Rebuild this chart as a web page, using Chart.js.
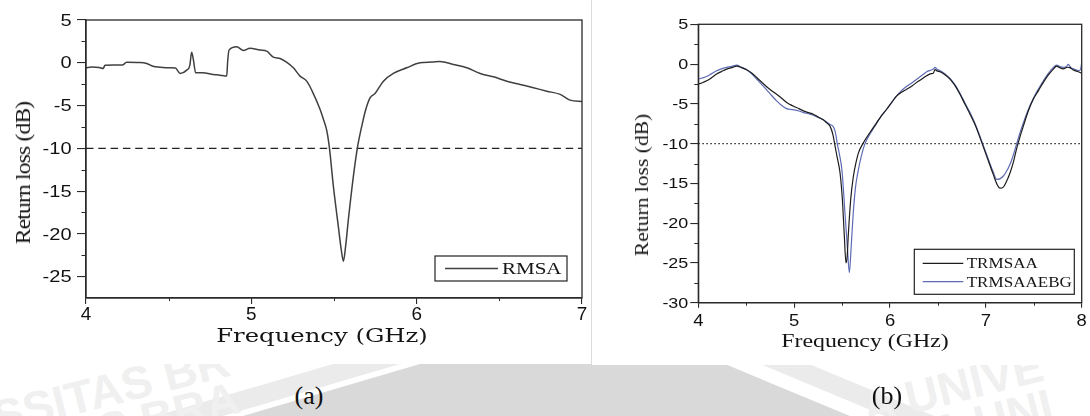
<!DOCTYPE html>
<html>
<head>
<meta charset="utf-8">
<script src="https://cdn.jsdelivr.net/npm/chart.js@4.4.1/dist/chart.umd.min.js"></script>
<style>
  html, body { margin: 0; padding: 0; background: #fff; }
  #page { position: relative; width: 1090px; height: 416px; overflow: hidden; background: #fff; }
  .panel { position: absolute; background: #fff; }
  canvas { position: absolute; }
  .txt { position: absolute; white-space: nowrap; line-height: 1; color: #151515; }
  #wm { position: absolute; left: 0; top: 364px; width: 1090px; height: 52px; overflow: hidden; }
  #wm span { position: absolute; font: bold 46px "Liberation Sans", Arial, sans-serif; color: #f0f0f0; white-space: nowrap; }
</style>
</head>
<body>
<div id="page">
  <svg width="1090" height="416" style="position:absolute;left:0;top:0">
    <polygon points="333,364 400,364 223,416 156,416" fill="#ebebeb"/>
    <polygon points="760,364 809,364 934,416 885,416" fill="#ebebeb"/>
    <polygon points="420,364 725,364 850,416 243,416" fill="#d9d9d9"/>
  </svg>
  <div id="wm">
    <span style="left:-10px;top:-2px;transform:rotate(-14deg)">SSITAS BR</span>
    <span style="left:40px;top:30px;transform:rotate(-14deg)">TAS BRA</span>
    <span style="left:860px;top:-4px;transform:rotate(-14deg)">A UNIVE</span>
    <span style="left:930px;top:28px;transform:rotate(-14deg)">A UNI</span>
  </div>
  <div class="panel" style="left:0;top:0;width:591px;height:364px"></div>
  <div class="panel" style="left:592px;top:0;width:498px;height:365px"></div>
  <div style="position:absolute;left:591px;top:0;width:1px;height:365px;background:#dcdcdc"></div>

  <canvas id="chartA" width="591" height="364" style="left:0;top:0"></canvas>
  <canvas id="chartB" width="498" height="365" style="left:592px;top:0"></canvas>

  <div class="txt" id="yTitleA" style="font:22px 'Liberation Serif','Times New Roman',serif;letter-spacing:-0.8px">Return loss (dB)</div>
  <div class="txt" id="xTitleA" style="font:18px 'DejaVu Serif',serif">Frequency (GHz)</div>
  <div class="txt" id="yTitleB" style="font:19px 'Liberation Serif','Times New Roman',serif">Return loss (dB)</div>
  <div class="txt" id="xTitleB" style="font:19px 'Liberation Serif','Times New Roman',serif">Frequency (GHz)</div>
  <div class="txt" id="capA" style="font:26px 'Liberation Serif','Times New Roman',serif;color:#111">(a)</div>
  <div class="txt" id="capB" style="font:26px 'Liberation Serif','Times New Roman',serif;color:#111">(b)</div>
</div>

<script>
// ---- (a) single antenna: frequency (GHz) and return loss (dB)
const FREQ_A = [4.000, 4.035, 4.080, 4.104, 4.115, 4.170, 4.220, 4.246, 4.310, 4.367, 4.405, 4.448, 4.508, 4.540,
  4.569, 4.609, 4.628, 4.639, 4.650, 4.663, 4.706, 4.770, 4.810, 4.851, 4.857, 4.865, 4.912, 4.952, 4.992, 5.053,
  5.093, 5.133, 5.174, 5.215, 5.254, 5.295, 5.335, 5.375, 5.416, 5.436, 5.456, 5.472, 5.496, 5.526, 5.545, 5.557,
  5.570, 5.587, 5.617, 5.641, 5.668, 5.690, 5.718, 5.748, 5.799, 5.859, 5.940, 6.020, 6.093, 6.140, 6.222, 6.303,
  6.384, 6.464, 6.545, 6.626, 6.706, 6.787, 6.868, 6.928, 7.000];
const RL_A = [-0.59, -0.50, -0.55, -0.66, -0.30, -0.27, -0.27, 0.07, 0.04, -0.08, -0.40, -0.51, -0.59, -0.60,
  -1.25, -0.86, -0.30, 1.22, 0.30, -1.17, -1.17, -1.37, -1.45, -1.56, 0.20, 1.48, 1.87, 1.44, 1.71, 1.48,
  1.36, 0.66, 0.50, 0.05, -0.59, -1.56, -2.15, -3.60, -5.46, -6.60, -7.90, -9.90, -14.4, -19.1, -22.0, -23.19,
  -21.5, -18.3, -13.3, -10.0, -7.40, -5.60, -4.10, -3.60, -2.15, -1.25, -0.59, 0.00, 0.08, 0.15, -0.20, -0.59,
  -1.25, -1.64, -2.15, -2.54, -2.92, -3.32, -3.70, -4.37, -4.52];

// ---- (b) array antenna without / with EBG
const FREQ_TRMSAA = [4.000, 4.040, 4.087, 4.140, 4.191, 4.240, 4.296, 4.350, 4.400, 4.450, 4.504, 4.560, 4.609,
  4.660, 4.713, 4.765, 4.817, 4.870, 4.922, 4.960, 5.000, 5.050, 5.096, 5.150, 5.200, 5.250, 5.304, 5.340, 5.374,
  5.405, 5.425, 5.450, 5.478, 5.503, 5.523, 5.541, 5.553, 5.565, 5.590, 5.617, 5.645, 5.670, 5.722, 5.791, 5.861,
  5.910, 5.965, 6.020, 6.070, 6.120, 6.174, 6.230, 6.278, 6.330, 6.383, 6.430, 6.452, 6.470, 6.490, 6.522, 6.570,
  6.626, 6.680, 6.730, 6.780, 6.835, 6.890, 6.939, 7.009, 7.078, 7.120, 7.148, 7.180, 7.210, 7.252, 7.290, 7.322,
  7.360, 7.391, 7.440, 7.496, 7.550, 7.600, 7.650, 7.704, 7.739, 7.770, 7.809, 7.850, 7.878, 7.913, 7.950, 8.000];
const RL_TRMSAA = [-2.52, -2.35, -2.10, -1.70, -1.26, -0.95, -0.63, -0.45, -0.25, -0.45, -0.72, -1.15, -1.68,
  -2.25, -2.85, -3.35, -3.80, -4.30, -4.84, -5.10, -5.34, -5.60, -5.89, -6.10, -6.30, -6.65, -7.00, -7.40, -7.80,
  -8.90, -10.2, -11.8, -13.6, -17.0, -21.5, -25.0, -24.2, -21.5, -17.0, -14.2, -12.4, -11.2, -9.90, -8.60, -7.36,
  -6.50, -5.68, -4.80, -4.00, -3.55, -3.16, -2.75, -2.30, -1.90, -1.47, -1.20, -1.14, -0.70, -0.85, -0.97, -1.30,
  -1.89, -2.75, -3.79, -5.00, -6.30, -7.70, -9.25, -11.6, -13.9, -15.2, -15.6, -15.5, -14.9, -13.7, -12.2, -10.6,
  -9.00, -7.80, -6.00, -4.40, -3.30, -2.30, -1.40, -0.63, -0.25, -0.45, -0.60, -0.40, -0.45, -0.75, -0.90, -1.15];

const FREQ_EBG = [4.000, 4.040, 4.087, 4.140, 4.191, 4.240, 4.296, 4.350, 4.400, 4.450, 4.504, 4.560, 4.609,
  4.660, 4.713, 4.765, 4.817, 4.870, 4.922, 4.960, 5.000, 5.050, 5.096, 5.150, 5.200, 5.250, 5.304, 5.340, 5.374,
  5.410, 5.430, 5.450, 5.475, 5.500, 5.530, 5.555, 5.576, 5.595, 5.615, 5.640, 5.670, 5.700, 5.739, 5.791, 5.861,
  5.910, 5.965, 6.020, 6.070, 6.120, 6.174, 6.230, 6.278, 6.330, 6.383, 6.430, 6.452, 6.470, 6.490, 6.522, 6.570,
  6.626, 6.680, 6.730, 6.780, 6.835, 6.890, 6.939, 7.009, 7.078, 7.113, 7.150, 7.180, 7.210, 7.252, 7.290, 7.322,
  7.360, 7.391, 7.440, 7.496, 7.550, 7.600, 7.650, 7.704, 7.739, 7.770, 7.809, 7.840, 7.860, 7.890, 7.913, 7.970,
  7.990, 8.000];
const RL_EBG = [-1.90, -1.75, -1.56, -1.20, -0.84, -0.60, -0.42, -0.30, -0.13, -0.40, -0.72, -1.25, -1.89,
  -2.55, -3.24, -3.95, -4.63, -5.20, -5.60, -5.70, -5.76, -5.90, -6.10, -6.25, -6.44, -6.70, -7.00, -7.30, -7.60,
  -7.90, -8.60, -10.0, -11.5, -13.5, -18.7, -23.0, -26.2, -23.0, -19.0, -15.5, -13.3, -11.6, -10.0, -8.80, -7.45,
  -6.50, -5.68, -4.75, -4.00, -3.35, -2.80, -2.35, -1.90, -1.45, -0.97, -0.75, -0.63, -0.42, -0.65, -0.84, -1.20,
  -1.81, -2.65, -3.66, -4.85, -6.10, -7.55, -9.10, -11.4, -13.6, -14.5, -14.4, -14.1, -13.6, -12.6, -11.3, -10.0,
  -8.50, -7.40, -5.80, -4.30, -3.10, -2.10, -1.20, -0.42, -0.13, -0.30, -0.42, -0.30, -0.05, -0.50, -0.60, -0.84,
  -0.60, 0.20];

// ---- axes
const X_TICKS_A = [4, 5, 6, 7];
const Y_TICKS_A = [5, 0, -5, -10, -15, -20, -25];
const X_MINOR_A = [4.5, 5.5, 6.5];
const Y_MINOR_A = [2.5, -2.5, -7.5, -12.5, -17.5, -22.5];
const X_TICKS_B = [4, 5, 6, 7, 8];
const Y_TICKS_B = [5, 0, -5, -10, -15, -20, -25, -30];
const X_MINOR_B = [4.5, 5.5, 6.5, 7.5];
const Y_MINOR_B = [2.5, -2.5, -7.5, -12.5, -17.5, -22.5, -27.5];
const LIMIT_DB = -10;   // -10 dB matching criterion

const pts = (xs, ys) => xs.map((x, i) => ({ x, y: ys[i] }));

// Full frame round the plot plus short outward minor ticks
const axisDecor = {
  id: 'axisDecor',
  afterDraw(chart, args, o) {
    const { ctx, chartArea: a } = chart;
    const xs = chart.scales.x, ys = chart.scales.y;
    ctx.save();
    ctx.strokeStyle = o.color;
    ctx.lineWidth = o.width;
    ctx.strokeRect(a.left, a.top, a.right - a.left, a.bottom - a.top);
    ctx.lineWidth = 1;
    ctx.beginPath();
    o.yMinor.forEach(v => { const p = Math.round(ys.getPixelForValue(v)) + 0.5; ctx.moveTo(a.left - o.yMinorLen, p); ctx.lineTo(a.left, p); });
    o.xMinor.forEach(v => { const p = Math.round(xs.getPixelForValue(v)) + 0.5; ctx.moveTo(p, a.bottom); ctx.lineTo(p, a.bottom + o.xMinorLen); });
    ctx.stroke();
    ctx.restore();
  }
};

// Tick labels, drawn a little wide like the printed figure
const tickText = {
  id: 'tickText',
  afterDraw(chart, args, o) {
    const ctx = chart.ctx;
    ['x', 'y'].forEach(id => {
      const sc = chart.scales[id], c = o[id];
      ctx.save();
      ctx.font = c.size + 'px ' + c.family;
      ctx.fillStyle = c.color;
      ctx.textBaseline = 'alphabetic';
      const cap = c.size * 0.716;
      sc.ticks.forEach(t => {
        const p = sc.getPixelForValue(t.value);
        const label = String(t.value);
        ctx.save();
        if (id === 'y') {
          ctx.translate(sc.right - c.gap, p + cap / 2);
          ctx.textAlign = 'right';
        } else {
          ctx.translate(p, sc.top + c.gap);
          ctx.textAlign = 'center';
        }
        ctx.scale(c.stretch, 1);
        ctx.fillText(label, 0, 0);
        ctx.restore();
      });
      ctx.restore();
    });
  }
};

// Boxed legend inside the lower right of the plot
const boxLegend = {
  id: 'boxLegend',
  afterDraw(chart, args, o) {
    const { ctx, chartArea: a } = chart;
    const items = chart.data.datasets.filter(d => d.label);
    const left = a.right - o.right - o.w, top = a.bottom - o.bottom - o.h;
    ctx.save();
    ctx.strokeStyle = '#222';
    ctx.lineWidth = 1.2;
    ctx.strokeRect(left, top, o.w, o.h);
    ctx.font = o.size + 'px ' + o.family;
    ctx.textBaseline = 'alphabetic';
    ctx.textAlign = 'left';
    items.forEach((d, i) => {
      const y = top + o.first + i * o.rowH;
      ctx.strokeStyle = d.borderColor;
      ctx.lineWidth = d.borderWidth;
      ctx.beginPath();
      ctx.moveTo(left + o.lineFrom, y);
      ctx.lineTo(left + o.lineTo, y);
      ctx.stroke();
      ctx.fillStyle = '#151515';
      ctx.save();
      ctx.translate(left + o.textX, y + o.size * 0.33);
      ctx.scale(o.stretch, 1);
      ctx.fillText(d.label, 0, 0);
      ctx.restore();
    });
    ctx.restore();
  }
};

function axisCfg(min, max, tickVals, size, tickLen, horizontal) {
  return {
    type: 'linear', min, max,
    afterBuildTicks: s => { s.ticks = tickVals.map(v => ({ value: v })); },
    afterFit: s => { if (horizontal) s.height = size; else s.width = size; },
    ticks: { display: false },
    grid: { display: true, drawOnChartArea: false, drawTicks: true, tickLength: tickLen, color: '#2a2a2a', lineWidth: 1.1 },
    border: { display: true, color: '#2a2a2a', width: 1.3 }
  };
}

const SANS = '"Liberation Sans", Arial, sans-serif';
const SERIF = '"Liberation Serif", "Times New Roman", serif';

new Chart(document.getElementById('chartA'), {
  type: 'line',
  data: {
    datasets: [
      { label: 'RMSA', data: pts(FREQ_A, RL_A), borderColor: '#404040', borderWidth: 1.5, pointRadius: 0, cubicInterpolationMode: 'monotone' },
      { label: '', data: [{ x: X_TICKS_A[0], y: LIMIT_DB }, { x: X_TICKS_A[X_TICKS_A.length - 1], y: LIMIT_DB }],
        borderColor: '#222', borderWidth: 1.3, borderDash: [7.5, 4.8], pointRadius: 0 }
    ]
  },
  options: {
    responsive: false, animation: false, events: [],
    layout: { padding: { left: 0, right: 9, top: 20, bottom: 0 } },
    plugins: {
      legend: { display: false }, tooltip: { enabled: false },
      axisDecor: { color: '#2a2a2a', width: 1.3, xMinor: X_MINOR_A, yMinor: Y_MINOR_A, xMinorLen: 3, yMinorLen: 4.5 },
      tickText: {
        x: { size: 18, family: SANS, color: '#111', stretch: 1.05, gap: 22 },
        y: { size: 16, family: SANS, color: '#111', stretch: 1.25, gap: 14.5 }
      },
      boxLegend: { right: 15, bottom: 17, w: 132, h: 25, first: 12.5, rowH: 18, lineFrom: 10, lineTo: 63, textX: 67,
        size: 17.5, family: SERIF, stretch: 1.2 }
    },
    scales: {
      x: axisCfg(4, 7, X_TICKS_A, 66, 6, true),
      y: axisCfg(-27.5, 5, Y_TICKS_A, 86, 9, false)
    }
  },
  plugins: [axisDecor, tickText, boxLegend]
});

new Chart(document.getElementById('chartB'), {
  type: 'line',
  data: {
    datasets: [
      { label: 'TRMSAA', data: pts(FREQ_TRMSAA, RL_TRMSAA), borderColor: '#1c1c1c', borderWidth: 1.2, pointRadius: 0, cubicInterpolationMode: 'monotone' },
      { label: 'TRMSAAEBG', data: pts(FREQ_EBG, RL_EBG), borderColor: '#5d6bb5', borderWidth: 1.2, pointRadius: 0, cubicInterpolationMode: 'monotone' },
      { label: '', data: [{ x: X_TICKS_B[0], y: LIMIT_DB }, { x: X_TICKS_B[X_TICKS_B.length - 1], y: LIMIT_DB }],
        borderColor: '#333', borderWidth: 1.2, borderDash: [1.6, 2.4], pointRadius: 0 }
    ]
  },
  options: {
    responsive: false, animation: false, events: [],
    layout: { padding: { left: 0, right: 8.3, top: 24.3, bottom: 0 } },
    plugins: {
      legend: { display: false }, tooltip: { enabled: false },
      axisDecor: { color: '#2a2a2a', width: 1.3, xMinor: X_MINOR_B, yMinor: Y_MINOR_B, xMinorLen: 3, yMinorLen: 4 },
      tickText: {
        x: { size: 16, family: SANS, color: '#111', stretch: 1.15, gap: 22.8 },
        y: { size: 14, family: SANS, color: '#111', stretch: 1.28, gap: 10 }
      },
      boxLegend: { right: 7.4, bottom: 8.4, w: 160, h: 45, first: 14, rowH: 18.4, lineFrom: 8.4, lineTo: 49, textX: 52.4,
        size: 15.5, family: SERIF, stretch: 1.1 }
    },
    scales: {
      x: axisCfg(4, 8, X_TICKS_B, 62.3, 5, true),
      y: axisCfg(-30, 5, Y_TICKS_B, 106.3, 8, false)
    }
  },
  plugins: [axisDecor, tickText, boxLegend]
});

// Axis titles and panel captions, centred and sized to their slots
function place(id, cx, cy, len, rot) {
  const el = document.getElementById(id);
  const k = len ? len / el.offsetWidth : 1;
  el.style.left = cx + 'px';
  el.style.top = cy + 'px';
  el.style.transform = 'translate(-50%,-50%) rotate(' + rot + 'deg) scaleX(' + k + ')';
}
place('yTitleA', 23, 173, 143, -90);
place('xTitleA', 322, 335, 212, 0);
place('yTitleB', 642, 185, 143, -90);
place('xTitleB', 865, 341, 167, 0);
place('capA', 309, 396, 0, 0);
place('capB', 887, 396, 0, 0);
</script>
</body>
</html>
